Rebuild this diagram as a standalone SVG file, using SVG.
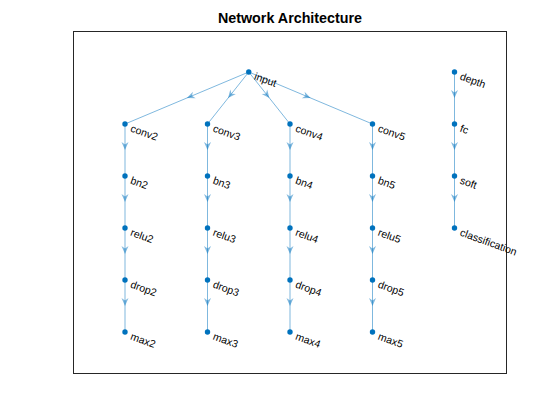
<svg xmlns="http://www.w3.org/2000/svg" xmlns:xlink="http://www.w3.org/1999/xlink" width="560" height="420" viewBox="0 0 560 420">
<style>
.edge{stroke:#0072BD;stroke-opacity:0.5;stroke-width:1;fill:none}
.arr{fill:#0072BD;fill-opacity:0.5;stroke:none}
.node{fill:#0072BD}
.lbl{font-family:"Liberation Sans",Arial,sans-serif;font-size:10.5px;fill:#000}
.title{font-family:"Liberation Sans",Arial,sans-serif;font-size:14.3px;font-weight:bold;fill:#000}
</style>
<defs>
<path id="ah" d="M0,0 L-8,-3.5 L-5.5,0 L-8,3.5 Z"/>
</defs>
<rect x="0" y="0" width="560" height="420" fill="#fff"/>
<rect x="73.5" y="31.5" width="433" height="342" fill="#fff" stroke="#262626" stroke-width="1"/>
<text class="title" x="290" y="23" text-anchor="middle">Network Architecture</text>
<g id="connectors">
<path class="edge" d="M248.75,72 L125,124 M248.75,72 L207.5,124 M248.75,72 L290,124 M248.75,72 L372.5,124"/>
<path class="edge" d="M125,124 V332 M207.5,124 V332 M290,124 V332 M372.5,124 V332 M454.5,72 V228"/>
<use xlink:href="#ah" class="arr" transform="translate(186.9,98) rotate(157.2)"/>
<use xlink:href="#ah" class="arr" transform="translate(228.1,98) rotate(128.4)"/>
<use xlink:href="#ah" class="arr" transform="translate(269.4,98) rotate(51.6)"/>
<use xlink:href="#ah" class="arr" transform="translate(310.6,98) rotate(22.8)"/>
<use xlink:href="#ah" class="arr" transform="translate(125,150) rotate(90)"/>
<use xlink:href="#ah" class="arr" transform="translate(125,202) rotate(90)"/>
<use xlink:href="#ah" class="arr" transform="translate(125,254) rotate(90)"/>
<use xlink:href="#ah" class="arr" transform="translate(125,306) rotate(90)"/>
<use xlink:href="#ah" class="arr" transform="translate(207.5,150) rotate(90)"/>
<use xlink:href="#ah" class="arr" transform="translate(207.5,202) rotate(90)"/>
<use xlink:href="#ah" class="arr" transform="translate(207.5,254) rotate(90)"/>
<use xlink:href="#ah" class="arr" transform="translate(207.5,306) rotate(90)"/>
<use xlink:href="#ah" class="arr" transform="translate(290,150) rotate(90)"/>
<use xlink:href="#ah" class="arr" transform="translate(290,202) rotate(90)"/>
<use xlink:href="#ah" class="arr" transform="translate(290,254) rotate(90)"/>
<use xlink:href="#ah" class="arr" transform="translate(290,306) rotate(90)"/>
<use xlink:href="#ah" class="arr" transform="translate(372.5,150) rotate(90)"/>
<use xlink:href="#ah" class="arr" transform="translate(372.5,202) rotate(90)"/>
<use xlink:href="#ah" class="arr" transform="translate(372.5,254) rotate(90)"/>
<use xlink:href="#ah" class="arr" transform="translate(372.5,306) rotate(90)"/>
<use xlink:href="#ah" class="arr" transform="translate(454.5,98) rotate(90)"/>
<use xlink:href="#ah" class="arr" transform="translate(454.5,150) rotate(90)"/>
<use xlink:href="#ah" class="arr" transform="translate(454.5,202) rotate(90)"/>
</g>
<g id="input"><circle class="node" cx="248.75" cy="72" r="2.7"/><text class="lbl" transform="translate(254.75,76) rotate(20)" y="3.5">input</text></g>
<g id="conv2"><circle class="node" cx="125" cy="124" r="2.7"/><text class="lbl" transform="translate(131,128) rotate(20)" y="3.5">conv2</text></g>
<g id="bn2"><circle class="node" cx="125" cy="176" r="2.7"/><text class="lbl" transform="translate(131,180) rotate(20)" y="3.5">bn2</text></g>
<g id="relu2"><circle class="node" cx="125" cy="228" r="2.7"/><text class="lbl" transform="translate(131,232) rotate(20)" y="3.5">relu2</text></g>
<g id="drop2"><circle class="node" cx="125" cy="280" r="2.7"/><text class="lbl" transform="translate(131,284) rotate(20)" y="3.5">drop2</text></g>
<g id="max2"><circle class="node" cx="125" cy="332" r="2.7"/><text class="lbl" transform="translate(131,336) rotate(20)" y="3.5">max2</text></g>
<g id="conv3"><circle class="node" cx="207.5" cy="124" r="2.7"/><text class="lbl" transform="translate(213.5,128) rotate(20)" y="3.5">conv3</text></g>
<g id="bn3"><circle class="node" cx="207.5" cy="176" r="2.7"/><text class="lbl" transform="translate(213.5,180) rotate(20)" y="3.5">bn3</text></g>
<g id="relu3"><circle class="node" cx="207.5" cy="228" r="2.7"/><text class="lbl" transform="translate(213.5,232) rotate(20)" y="3.5">relu3</text></g>
<g id="drop3"><circle class="node" cx="207.5" cy="280" r="2.7"/><text class="lbl" transform="translate(213.5,284) rotate(20)" y="3.5">drop3</text></g>
<g id="max3"><circle class="node" cx="207.5" cy="332" r="2.7"/><text class="lbl" transform="translate(213.5,336) rotate(20)" y="3.5">max3</text></g>
<g id="conv4"><circle class="node" cx="290" cy="124" r="2.7"/><text class="lbl" transform="translate(296,128) rotate(20)" y="3.5">conv4</text></g>
<g id="bn4"><circle class="node" cx="290" cy="176" r="2.7"/><text class="lbl" transform="translate(296,180) rotate(20)" y="3.5">bn4</text></g>
<g id="relu4"><circle class="node" cx="290" cy="228" r="2.7"/><text class="lbl" transform="translate(296,232) rotate(20)" y="3.5">relu4</text></g>
<g id="drop4"><circle class="node" cx="290" cy="280" r="2.7"/><text class="lbl" transform="translate(296,284) rotate(20)" y="3.5">drop4</text></g>
<g id="max4"><circle class="node" cx="290" cy="332" r="2.7"/><text class="lbl" transform="translate(296,336) rotate(20)" y="3.5">max4</text></g>
<g id="conv5"><circle class="node" cx="372.5" cy="124" r="2.7"/><text class="lbl" transform="translate(378.5,128) rotate(20)" y="3.5">conv5</text></g>
<g id="bn5"><circle class="node" cx="372.5" cy="176" r="2.7"/><text class="lbl" transform="translate(378.5,180) rotate(20)" y="3.5">bn5</text></g>
<g id="relu5"><circle class="node" cx="372.5" cy="228" r="2.7"/><text class="lbl" transform="translate(378.5,232) rotate(20)" y="3.5">relu5</text></g>
<g id="drop5"><circle class="node" cx="372.5" cy="280" r="2.7"/><text class="lbl" transform="translate(378.5,284) rotate(20)" y="3.5">drop5</text></g>
<g id="max5"><circle class="node" cx="372.5" cy="332" r="2.7"/><text class="lbl" transform="translate(378.5,336) rotate(20)" y="3.5">max5</text></g>
<g id="depth"><circle class="node" cx="454.5" cy="72" r="2.7"/><text class="lbl" transform="translate(460.5,76) rotate(20)" y="3.5">depth</text></g>
<g id="fc"><circle class="node" cx="454.5" cy="124" r="2.7"/><text class="lbl" transform="translate(460.5,128) rotate(20)" y="3.5">fc</text></g>
<g id="soft"><circle class="node" cx="454.5" cy="176" r="2.7"/><text class="lbl" transform="translate(460.5,180) rotate(20)" y="3.5">soft</text></g>
<g id="classification"><circle class="node" cx="454.5" cy="228" r="2.7"/><text class="lbl" transform="translate(460.5,232) rotate(20)" y="3.5">classification</text></g>
</svg>
